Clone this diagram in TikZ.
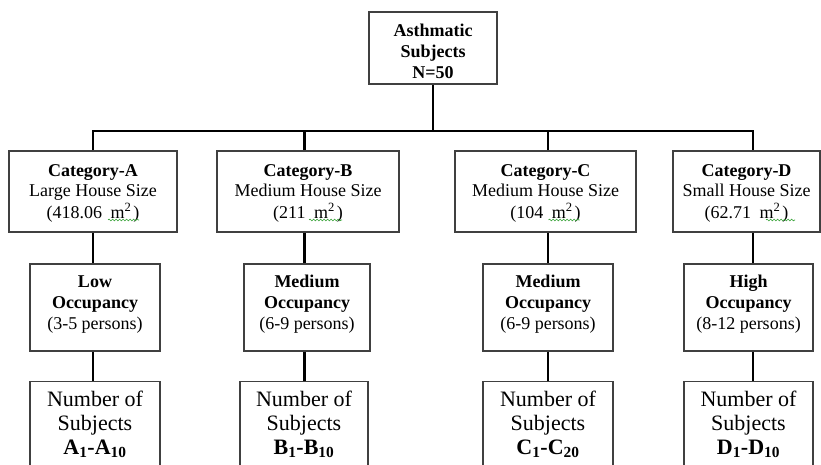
\documentclass[tikz,border=0pt]{standalone}
\usepackage{fontspec}
\setmainfont{Liberation Serif}
\usetikzlibrary{decorations.pathmorphing}
\definecolor{SpellGreen}{HTML}{2E9E2E}
\definecolor{BoxLine}{HTML}{404040}

\begin{document}
\begin{tikzpicture}[x=1pt, y=-1pt,
        box/.style={draw=BoxLine, line width=1.1pt, align=center, inner sep=0pt},
        rootbox/.style={box, minimum width=128pt, minimum height=72pt, text height=62pt, text depth=0pt,
            font=\fontsize{18}{21}\selectfont\bfseries},
        catbox/.style={box, minimum height=81pt, text height=57pt, text depth=4pt,
            font=\fontsize{18}{21}\selectfont},
        occbox/.style={box, minimum height=87pt, text height=47pt, text depth=4pt,
            font=\fontsize{18}{21}\selectfont},
        numbox/.style={box, anchor=north, inner ysep=9pt, text depth=60pt,
            font=\fontsize{22}{24}\selectfont},
        squiggle/.style={draw=SpellGreen, line width=0.6pt,
            decorate, decoration={snake, amplitude=0.9pt, segment length=3.5pt}},
        link/.style={line width=2.6pt}]
        \useasboundingbox (0,0) rectangle (821,465);
        \clip (0,0) rectangle (821,465);
        % top of the tree
        \node[rootbox] (root) at (433,48) {Asthmatic\\Subjects\\N=50};
        % house size categories
        \foreach \lett/\cx/\cw/\size/\area/\wa/\wb in {A/93/168/Large/418.06/15/46,
                B/308/182/Medium/211/1/34, C/545.5/181/Medium/104/3/34,
                D/746.5/147/Small/62.71/19.5/48.5} {
            \node[catbox, minimum width=\cw pt] (cat\lett) at (\cx,191.5)
                {\textbf{Category-\lett}\\\size{} House Size\\(\area\hspace{8.5pt}m\textsuperscript{2}\hspace{2pt})};
            \draw[squiggle] ([shift={(\wa,28.5)}]cat\lett.center) -- ([shift={(\wb,28.5)}]cat\lett.center);
        }
        % occupancy
        \foreach \lett/\cx/\ow/\level/\range in {A/95/130/Low/3-5, B/307/126/Medium/6-9,
                C/548/130/Medium/6-9, D/748.5/129/High/8-12} {
            \node[occbox, minimum width=\ow pt] (occ\lett) at (\cx,307.5)
                {\textbf{\level}\\\textbf{Occupancy}\\(\range{} persons)};
        }
        % subjects
        \foreach \lett/\cx/\nw/\last in {A/95/130/10, B/304/128/10, C/548/130/20, D/748.5/129/10} {
            \node[numbox, minimum width=\nw pt] (num\lett) at (\cx,381)
                {Number of\\Subjects\\\textbf{\lett\textsubscript{1}-\lett\textsubscript{\last}}};
        }
        % connectors
        \coordinate (dropA) at (93,131);
        \coordinate (dropB) at (304.5,131);
        \coordinate (dropC) at (548,131);
        \coordinate (dropD) at (753,131);
        \draw[link] (root.south) -- (root.south |- dropA);
        \draw[link] (catA.north -| dropA) -- (dropA) -- (dropD) -- (catD.north -| dropD);
        \draw[link] (dropB) -- (catB.north -| dropB);
        \draw[link] (dropC) -- (catC.north -| dropC);
        \foreach \lett in {A,B,C,D} {
            \draw[link] (cat\lett.south -| drop\lett) -- (occ\lett.north -| drop\lett);
            \draw[link] (occ\lett.south -| drop\lett) -- (num\lett.north -| drop\lett);
        }
    \end{tikzpicture}
\end{document}
